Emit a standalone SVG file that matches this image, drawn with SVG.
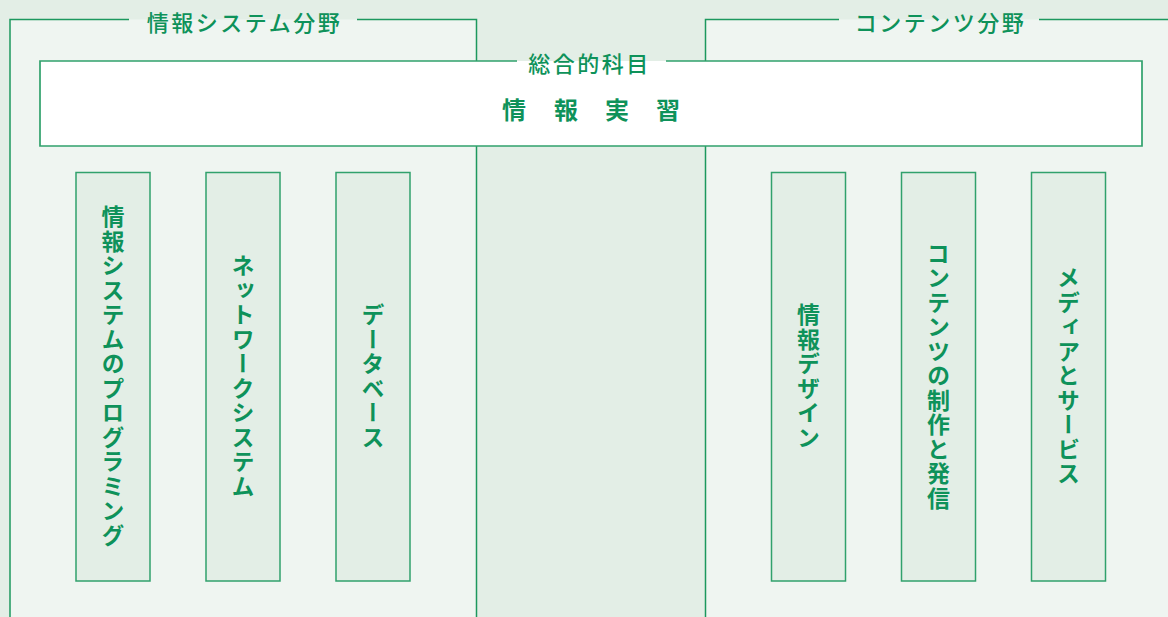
<svg xmlns="http://www.w3.org/2000/svg" width="1168" height="617" viewBox="0 0 1168 617">
<style>
.bg{fill:#e3eee6}
.panel{fill:#eff5f1}
.pline{fill:none;stroke:#1c985e;stroke-width:1.5}
.box{fill:#e3eee6;stroke:#30a16c;stroke-width:1.5}
.mline{fill:none;stroke:#30a16c;stroke-width:1.7}
.t{font-family:"Noto Sans CJK JP","Noto Sans",sans-serif;fill:#0e925a;text-anchor:middle;dominant-baseline:central}
.title{font-size:22px;font-weight:500;letter-spacing:2.5px}
.big{font-size:24px;font-weight:700}
.v{font-size:23px;font-weight:700;letter-spacing:1.5px;writing-mode:vertical-rl}
</style>
<rect class="bg" x="0" y="0" width="1168" height="617"/>
<g id="panel-info">
<rect class="panel" x="10" y="19.5" width="466.5" height="610"/>
<path class="pline" d="M129 19.5 H10 V620 M357 19.5 H476.5 V620"/>
<text class="t title" x="244.5" y="21">情報システム分野</text>
</g>
<g id="panel-contents">
<rect class="panel" x="705.5" y="19.5" width="470" height="610"/>
<path class="pline" d="M839 19.5 H705.5 V620 M1039 19.5 H1170"/>
<text class="t title" x="940.5" y="21">コンテンツ分野</text>
</g>
<g id="general">
<rect x="40" y="61" width="1102" height="85" fill="#ffffff"/>
<path class="mline" d="M517 61 H40 V146 H1142 V61 H666"/>
<text class="t title" x="589.5" y="62">総合的科目</text>
<text class="t big" y="108"><tspan x="514">情</tspan><tspan x="566">報</tspan><tspan x="617">実</tspan><tspan x="668">習</tspan></text>
</g>
<g id="box-programming">
<rect class="box" x="76" y="172.5" width="74" height="408.5"/>
<text class="t v" x="113" y="376.5">情報システムのプログラミング</text>
</g>
<g id="box-network">
<rect class="box" x="206" y="172.5" width="74" height="408.5"/>
<text class="t v" x="243" y="376.5">ネットワークシステム</text>
</g>
<g id="box-database">
<rect class="box" x="336" y="172.5" width="74" height="408.5"/>
<text class="t v" x="373" y="376.5">データベース</text>
</g>
<g id="box-design">
<rect class="box" x="771.5" y="172.5" width="74" height="408.5"/>
<text class="t v" x="808.5" y="376.5">情報デザイン</text>
</g>
<g id="box-contents">
<rect class="box" x="901.5" y="172.5" width="74" height="408.5"/>
<text class="t v" x="938.5" y="376.5">コンテンツの制作と発信</text>
</g>
<g id="box-media">
<rect class="box" x="1031.5" y="172.5" width="74" height="408.5"/>
<text class="t v" x="1068.5" y="376.5">メディアとサービス</text>
</g>
<g id="connectors"></g>
</svg>
